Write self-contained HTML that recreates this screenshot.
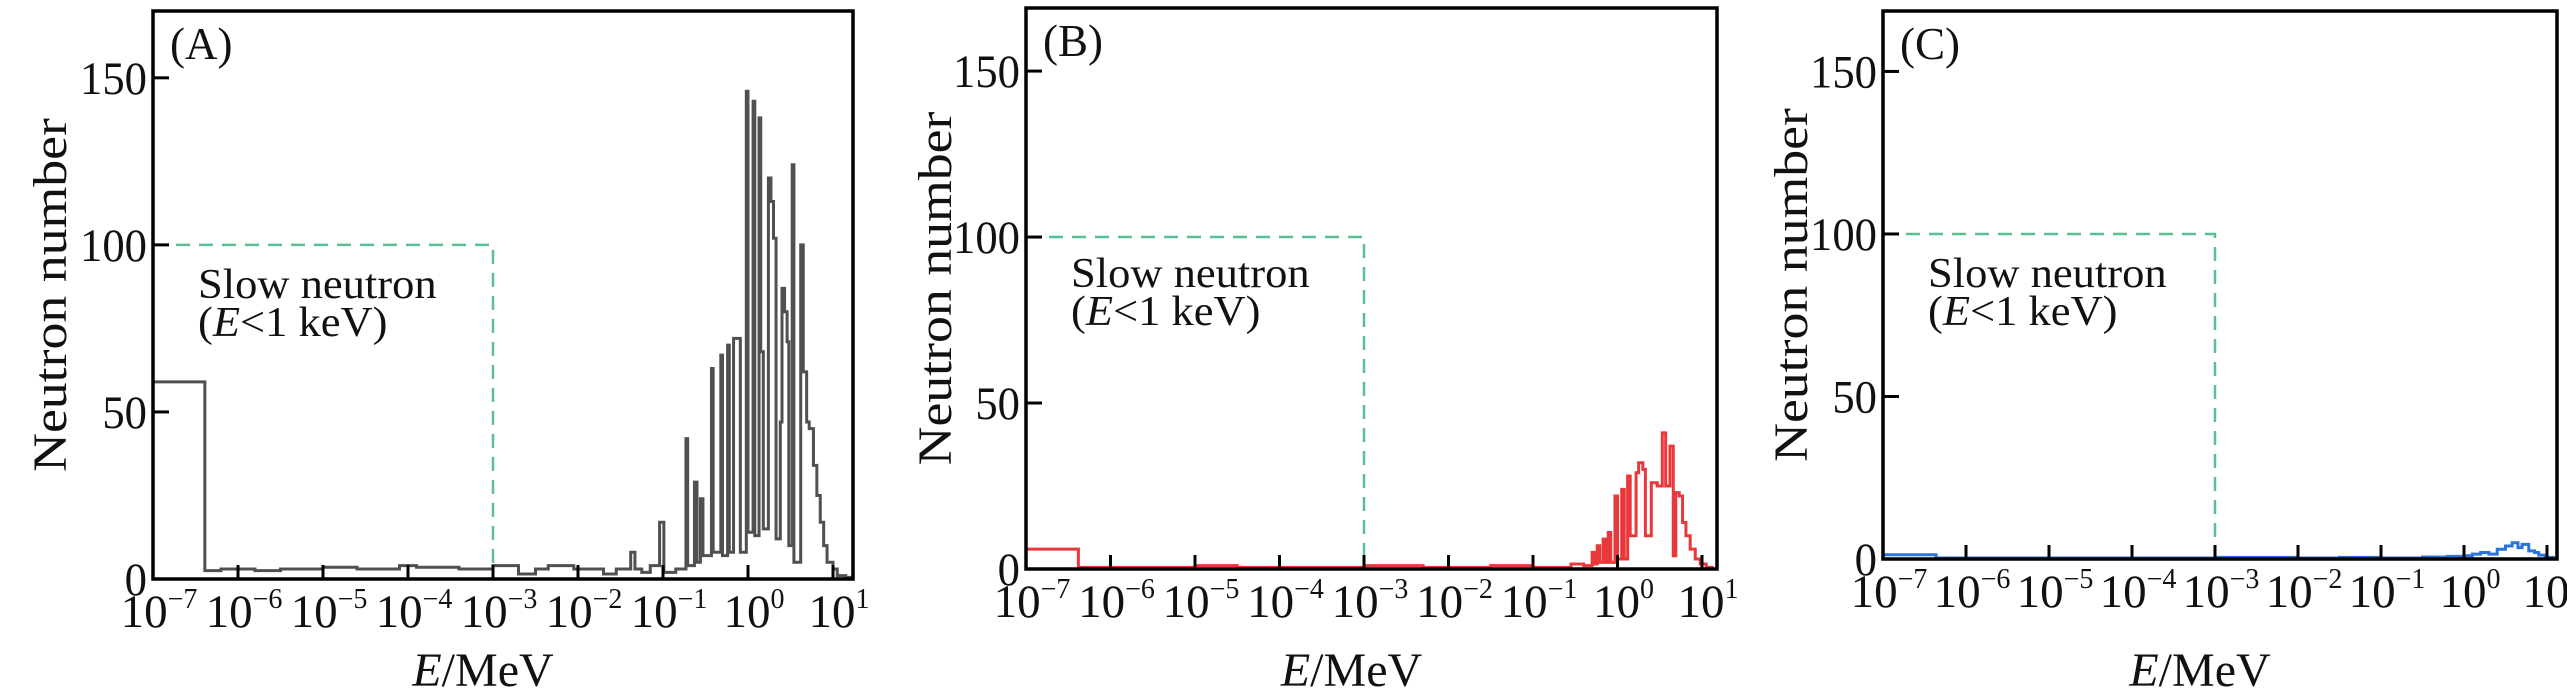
<!DOCTYPE html>
<html><head><meta charset="utf-8"><style>
html,body{margin:0;padding:0;background:#fff;}
svg{display:block;font-family:"Liberation Serif",serif;}
</style></head>
<body>
<svg id="fig" xmlns="http://www.w3.org/2000/svg" width="2567" height="693" viewBox="0 0 2567 693"></svg>
<script>
// ---- data (log10 of energy in MeV for bin edges, counts per bin) ----
const xTickExps = [-7,-6,-5,-4,-3,-2,-1,0,1];
const yTicks = [0,50,100,150];
const slowNeutronLimitExp = -3;
const slowNeutronBoxHeight = 100;

const aLogE = [-7,-6.39,-6.2,-5.8,-5.5,-5.0,-4.6,-4.1,-3.9,-3.4,-3.0,-2.7,-2.5,-2.35,-2.05,-1.7,-1.55,-1.38,-1.33,-1.25,-1.15,-1.04,-0.99,-0.85,-0.73,-0.71,-0.63,-0.60,-0.56,-0.53,-0.43,-0.41,-0.32,-0.30,-0.24,-0.22,-0.17,-0.09,-0.02,0.0,0.06,0.08,0.13,0.15,0.18,0.24,0.27,0.30,0.33,0.38,0.40,0.43,0.46,0.48,0.52,0.54,0.62,0.65,0.69,0.72,0.77,0.81,0.85,0.89,0.93,1.0,1.05,1.15,1.2];
const aCount = [59,2.5,3,2.5,3,3.5,3,4,3.5,3,4,1.5,3,4,3,1.5,3,8,3,2,4,17,2,3,42,4,29,5,24,7,63,8,67,7,70,8,72,8,146,14,143,13,138,68,15,120,113,102,12,47,87,80,71,10,124,5,100,62,47,45,34,25,17,10,5,3,1,0.5];

const bLogE = [-7,-6.38,-5,-4.5,-3.0,-2.3,-1.5,-1.0,-0.55,-0.4,-0.3,-0.27,-0.24,-0.21,-0.17,-0.14,-0.11,-0.08,-0.03,0.0,0.05,0.08,0.12,0.15,0.22,0.25,0.3,0.33,0.4,0.44,0.47,0.53,0.57,0.62,0.66,0.69,0.73,0.77,0.81,0.86,0.92,0.98,1.05,1.12];
const bCount = [6,0.5,1,0.5,1,0.5,1,0.5,1.5,1,5,1.5,7,2,9,2,11,2,22,3,24,3,28,10,29,32,30,10,26,26,25,41,25,37,4,23,22,14,10,6,3,1.5,0.5];

const cLogE = [-7,-6.36,-3,-2,-1.5,-1,-0.5,-0.2,0.0,0.1,0.2,0.3,0.4,0.5,0.58,0.65,0.7,0.78,0.85,0.9,0.98,1.08];
const cCount = [1.3,0.3,0.5,0.3,0.5,0.3,0.6,0.8,1,1.5,2,1.5,3,4,5,3.5,4.5,2.5,2,1.2,0.5];

const panelLabels = ["(A)","(B)","(C)"];

// ---- layout ----
const panels = [
  {key:"a", L:153, R:853, T:11, B:579, xmin:-7, dec:85, ymax:170, color:"#505050", logE:aLogE, cnt:aCount, ytitleX:50, textY:298},
  {key:"b", L:1026, R:1717, T:8, B:569, xmin:-7, dec:84.5, ymax:169, color:"#e8383c", logE:bLogE, cnt:bCount, ytitleX:935, textY:287},
  {key:"c", L:1883, R:2557, T:11, B:559, xmin:-7, dec:83, ymax:168.6, color:"#2a74dc", logE:cLogE, cnt:cCount, ytitleX:1791, textY:287}
];

const NS = "http://www.w3.org/2000/svg";
const svg = document.getElementById("fig");
function mk(tag, attrs, parent){
  const e = document.createElementNS(NS, tag);
  for (const k in attrs) e.setAttribute(k, attrs[k]);
  (parent||svg).appendChild(e);
  return e;
}
function stretched(x, y, sx, attrs, parent){
  const a = Object.assign({x:0, y:0, transform:`translate(${x},${y}) scale(${sx},1)`}, attrs);
  return mk("text", a, parent);
}

panels.forEach((p, pi) => {
  const xs = v => p.L + (v - p.xmin) * p.dec;
  const ys = v => p.B - v * (p.B - p.T) / p.ymax;
  const g = mk("g", {});
  
  

  const box = mk("path", {d:`M${p.L},${ys(slowNeutronBoxHeight)} H${xs(slowNeutronLimitExp)} V${p.B}`, fill:"none", stroke:"#5cbf92", "stroke-width":2.5, "stroke-dasharray":"14 9"}, g);
  
  

  let d = `M${xs(p.logE[0])},${ys(0)}`;
  for (let i = 0; i < p.cnt.length; i++) {
    d += ` L${xs(p.logE[i])},${ys(p.cnt[i])} L${xs(p.logE[i+1])},${ys(p.cnt[i])}`;
  }
  const last = p.logE.length - 1;
  d += ` L${xs(p.logE[last])},${ys(0)}`;
  const hist = mk("path", {d:d, fill:"none", stroke:p.color, "stroke-width":3, "stroke-linejoin":"miter"}, g);
  
  

  const frame = mk("rect", {x:p.L, y:p.T, width:p.R-p.L, height:p.B-p.T, fill:"none", stroke:"#000", "stroke-width":3.5}, g);
  
  

  yTicks.forEach(t => {
    const y = ys(t);
    const tk = mk("line", {x1:p.L, x2:p.L+16, y1:y, y2:y, stroke:"#000", "stroke-width":3}, g);
    
    
    const lb = stretched(p.L-6, y+16, 0.95, {"text-anchor":"end", "font-size":47, fill:"#111"}, g);
    lb.textContent = String(t);
    
    
  });

  xTickExps.forEach(e => {
    const x = xs(e);
    if (e !== p.xmin) {
      const tk = mk("line", {x1:x, x2:x, y1:p.B, y2:p.B-14, stroke:"#000", "stroke-width":3}, g);
      
      
    }
    const lb = stretched(x+6, p.B+48, 1.0, {"text-anchor":"middle", "font-size":47, fill:"#111"}, g);
    
    
    const t1 = mk("tspan", {}, lb); t1.textContent = "10";
    const t2 = mk("tspan", {"font-size":28, dy:-19}, lb);
    t2.textContent = e < 0 ? "\u2212" + Math.abs(e) : String(e);
  });

  const yt = mk("text", {x:0, y:0, transform:`translate(${p.ytitleX+16},${(p.T+p.B)/2}) rotate(-90) scale(1.12,1)`, "text-anchor":"middle", "font-size":48, fill:"#111"}, g);
  yt.textContent = "Neutron number";
  
  

  const xt = stretched((p.L+p.R)/2 - 20, 686, 1.0, {"text-anchor":"middle", "font-size":48, fill:"#111"}, g);
  
  
  const xe = mk("tspan", {"font-style":"italic"}, xt); xe.textContent = "E";
  const xm = mk("tspan", {}, xt); xm.textContent = "/MeV";

  const pl = mk("text", {x:p.L+17, y:p.T+48, "font-size":45, fill:"#111"}, g);
  pl.textContent = panelLabels[pi];
  
  

  const an = stretched(p.L+45, p.textY, 1.06, {"font-size":42, fill:"#111"}, g);
  an.textContent = "Slow neutron";
  
  
  const an2 = stretched(p.L+45, p.textY+38, 1.06, {"font-size":42, fill:"#111"}, g);
  
  
  const s1 = mk("tspan", {}, an2); s1.textContent = "(";
  const s2 = mk("tspan", {"font-style":"italic"}, an2); s2.textContent = "E";
  const s3 = mk("tspan", {}, an2); s3.textContent = "<1 keV)";
});
</script>
</body></html>
